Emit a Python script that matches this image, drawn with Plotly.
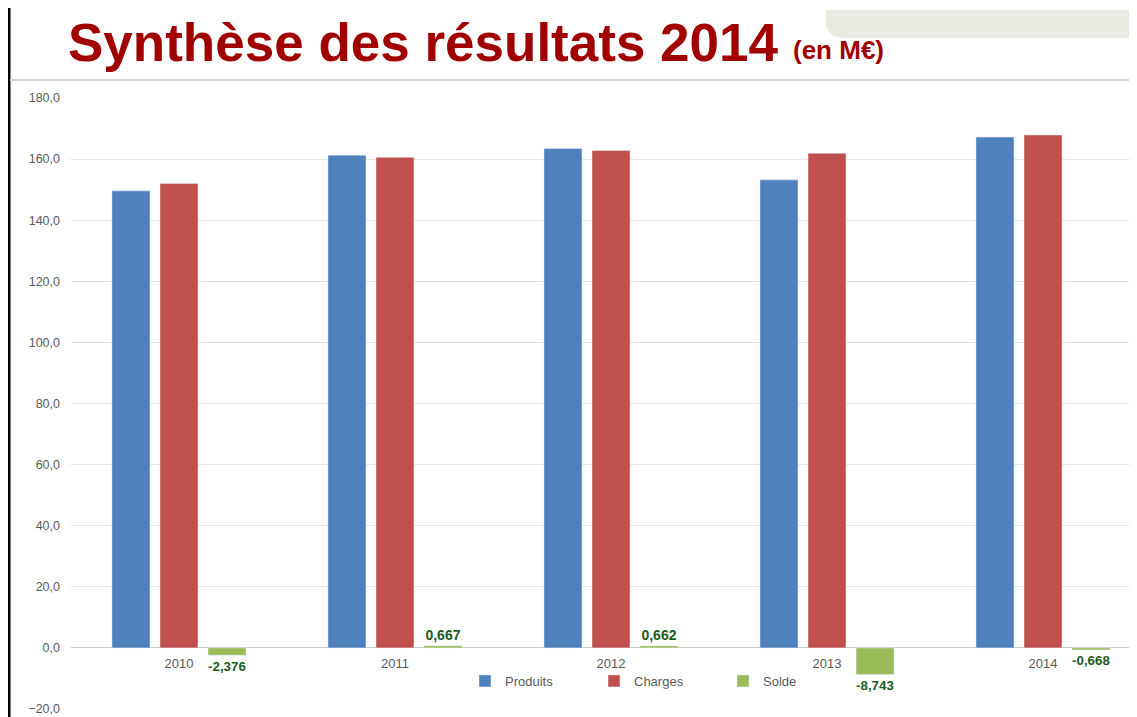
import plotly.graph_objects as go

years = ["2010", "2011", "2012", "2013", "2014"]
produits = [149.6, 161.3, 163.5, 153.2, 167.2]
charges = [152.0, 160.6, 162.8, 161.9, 167.9]
solde = [-2.376, 0.667, 0.662, -8.743, -0.668]
y_ticks = [-20, 0, 20, 40, 60, 80, 100, 120, 140, 160, 180]

# the page body adds an 8px offset; work in screen pixels
OFF = 8
W, H = 1137 - OFF, 717 - OFF
PL, PT, PB = 71, 98, 709          # plot area edges in screen pixels
L, T = PL - OFF, PT - OFF
B = H - (PB - OFF)
R = 0
PW, PH = W - L - R, H - T - B


def px(x):
    return (x - OFF - L) / PW


def py(y):
    return (H - B - (y - OFF)) / PH


solde_txt = [f"{v:.3f}".replace(".", ",") for v in solde]

fig = go.Figure()
fig.add_trace(go.Bar(x=years, y=produits, name="Produits", marker_color="#4F81BD"))
fig.add_trace(go.Bar(x=years, y=charges, name="Charges", marker_color="#C0504D"))
fig.add_trace(go.Bar(
    x=years, y=solde, name="Solde", marker_color="#9BBB59",
    text=solde_txt, textposition="outside", cliponaxis=False,
    textfont=dict(family="Liberation Sans", size=14, color="#1E5B1E", weight="bold"),
))

fig.update_layout(
    width=W, height=H,
    margin=dict(l=L, r=R, t=T, b=B),
    paper_bgcolor="white", plot_bgcolor="white",
    barmode="group", bargap=0.333, bargroupgap=0.208,
    separators=", ",
    font=dict(family="Liberation Sans", color="#595959"),
    showlegend=True,
    legend=dict(orientation="h", x=px(465), xanchor="left", y=py(681), yanchor="middle",
                font=dict(size=13, color="#595959"), entrywidth=84, entrywidthmode="pixels",
                bgcolor="rgba(0,0,0,0)"),
    xaxis=dict(type="category", range=[-0.5, 4.435], anchor="free", position=py(648),
               showline=False, showgrid=False, ticks="", tickfont=dict(size=13, color="#595959"),
               ticklabelstandoff=6),
    yaxis=dict(range=[-20, 180], tickvals=y_ticks, tickformat=".1f",
               showgrid=True, gridcolor="#E3E3E3", gridwidth=1,
               zeroline=True, zerolinecolor="#C8C8C8", zerolinewidth=1,
               showline=False, ticks="", tickfont=dict(size=12.5, color="#595959"),
               ticklabelstandoff=10),
)

shapes = [
    dict(type="line", xref="paper", yref="paper", x0=px(9), x1=px(9), y0=py(0), y1=py(717),
         line=dict(color="black", width=3)),
    dict(type="line", xref="paper", yref="paper", x0=px(10), x1=px(1137), y0=py(80), y1=py(80),
         line=dict(color="#D3D3D3", width=2)),
    dict(type="path", xref="paper", yref="paper",
         path=f"M {px(826)},{py(10)} L {px(1137)},{py(10)} L {px(1137)},{py(38)} "
              f"L {px(846)},{py(38)} Q {px(826)},{py(38)} {px(826)},{py(22)} Z",
         fillcolor="#EBEAE2", line=dict(width=0)),
]
fig.update_layout(shapes=shapes)

fig.add_annotation(xref="paper", yref="paper", x=px(66), y=py(42), xanchor="left", yanchor="middle",
                   text="Synthèse des résultats 2014", showarrow=False,
                   font=dict(family="Liberation Sans", size=53, color="#A00000", weight="bold"))
fig.add_annotation(xref="paper", yref="paper", x=px(791), y=py(50), xanchor="left", yanchor="middle",
                   text="(en M€)", showarrow=False,
                   font=dict(family="Liberation Sans", size=26, color="#A00000", weight="bold"))

fig.write_html("out.html")
